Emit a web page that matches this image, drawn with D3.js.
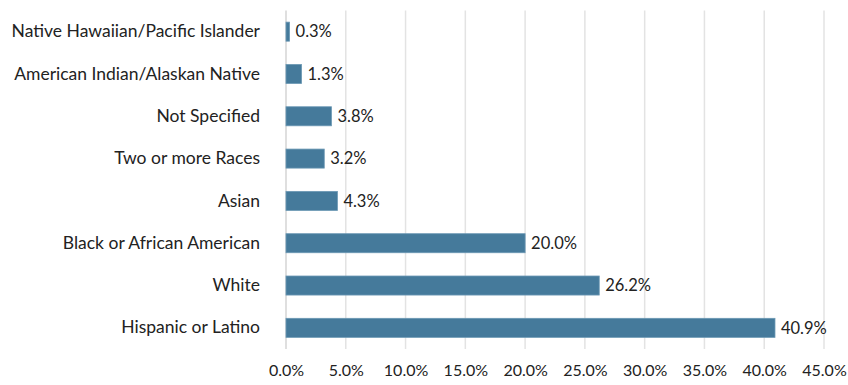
<!DOCTYPE html>
<html>
<head>
<meta charset="utf-8">
<script src="https://cdn.jsdelivr.net/npm/d3@7"></script>
<style>
  html, body { margin: 0; background: #fff; overflow: hidden; }
  svg { display: block; }
  text { font-family: Lato, "Open Sans", sans-serif; fill: #222; }
</style>
</head>
<body>
<div id="chart"></div>
<script>
  // Data
  const categories = [
    "Native Hawaiian/Pacific Islander",
    "American Indian/Alaskan Native",
    "Not Specified",
    "Two or more Races",
    "Asian",
    "Black or African American",
    "White",
    "Hispanic or Latino"
  ];
  const shares = [0.3, 1.3, 3.8, 3.2, 4.3, 20.0, 26.2, 40.9];
  const xTicks = [0, 5, 10, 15, 20, 25, 30, 35, 40, 45];

  const data = categories.map((c, i) => ({category: c, value: shares[i]}));

  // Constants
  const width = 848;
  const height = 385;
  const margin = {top: 10.5, right: 24, bottom: 36, left: 286};
  const innerHeight = height - margin.top - margin.bottom;

  const svg = d3.select("#chart")
    .append("svg")
      .attr("width", width)
      .attr("height", height);

  const innerChart = svg
    .append("g")
      .attr("transform", `translate(${margin.left}, ${margin.top})`);

  // Scales
  const xScale = d3.scaleLinear()
    .domain([0, 45])
    .range([0, 538]);

  const yScale = d3.scaleBand()
    .domain(categories)
    .range([0, innerHeight])
    .paddingInner(0.55)
    .paddingOuter(0.275);

  // Gridlines
  innerChart.selectAll(".grid")
    .data(xTicks)
    .join("line")
      .attr("class", "grid")
      .attr("x1", d => xScale(d))
      .attr("x2", d => xScale(d))
      .attr("y1", 0)
      .attr("y2", innerHeight)
      .attr("stroke", d => d === 0 ? "#d4d4d4" : "#e3e3e3")
      .attr("stroke-width", 1.5);

  // Bars
  innerChart.selectAll(".bar")
    .data(data)
    .join("rect")
      .attr("class", "bar")
      .attr("x", 0)
      .attr("y", d => yScale(d.category))
      .attr("width", d => xScale(d.value))
      .attr("height", yScale.bandwidth())
      .attr("fill", "#457a9b")
      .attr("stroke", "#6b98b4")
      .attr("stroke-width", 0.8);

  // Value labels
  innerChart.selectAll(".value")
    .data(data)
    .join("text")
      .attr("class", "value")
      .attr("x", d => xScale(d.value) + 6)
      .attr("y", d => yScale(d.category) + yScale.bandwidth() / 2)
      .attr("dy", "0.35em")
      .attr("font-size", 16.5)
      .text(d => d.value.toFixed(1) + "%");

  // Category axis
  const leftAxis = d3.axisLeft(yScale).tickSize(0).tickPadding(26);
  innerChart.append("g")
    .call(leftAxis)
    .call(g => g.select(".domain").remove())
    .selectAll("text")
      .attr("font-size", 17.5)
      .style("font-family", "Lato, sans-serif")
      .attr("fill", "#222");

  // Value axis
  const bottomAxis = d3.axisBottom(xScale)
    .tickValues(xTicks)
    .tickFormat(d => d.toFixed(1) + "%")
    .tickSize(0)
    .tickPadding(16);
  innerChart.append("g")
    .attr("transform", `translate(0, ${innerHeight})`)
    .call(bottomAxis)
    .call(g => g.select(".domain").remove())
    .selectAll("text")
      .attr("font-size", 16)
      .style("font-family", "Lato, sans-serif")
      .attr("fill", "#222");
</script>
</body>
</html>
